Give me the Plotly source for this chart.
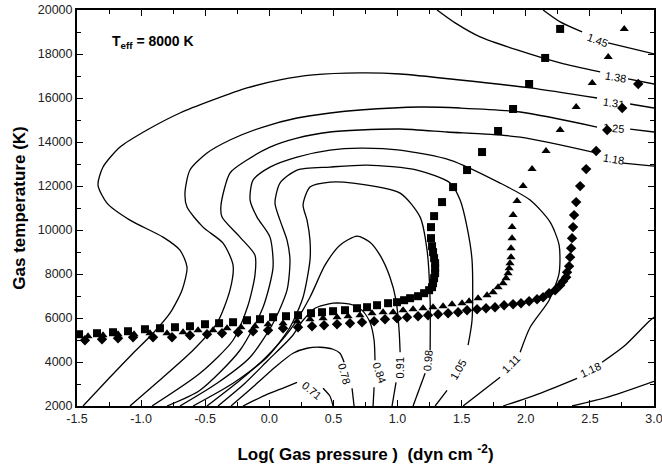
import plotly.graph_objects as go

# ---------------- contour lines (log Pgas, T); None = label gap
c145_x = [2.135, 2.268, 2.439, None, 2.642, 3.0]
c145_t = [20000, 19458, 19003, None, 18503, 18003]

c138_x = [1.308, 1.449, 1.644, 1.932, 2.268, 2.580, None, 2.798, 3.0]
c138_t = [20000, 19413, 18776, 18184, 17594, 17184, None, 16865, 16637]

c131_x = [-1.453, -1.243, -1.063, -0.907, -0.775, -0.681, -0.642, -0.697, -0.829, -1.087, -1.266, -1.336,
          -1.297, -1.164, -0.954, -0.697, -0.439, -0.174, 0.083, 0.341, 0.707, 1.020, 1.488, 2.034, 2.556,
          None, 2.814, 3.0]
c131_t = [2000, 3306, 4398, 5308, 6218, 7264, 8311, 9085, 9676, 10449, 11223, 12042,
          12861, 13771, 14544, 15318, 15910, 16456, 16819, 17047, 17138, 17092, 16819, 16456, 16000,
          None, 15727, 15545]

c125_x = [-1.087, -0.829, -0.595, -0.408, -0.307, -0.283, -0.361, -0.517, -0.642, -0.658, -0.619, -0.486,
          -0.307, -0.049, 0.216, 0.474, 0.707, 1.176, 1.488, 1.956, 2.556, None, 2.814, 3.0]
c125_t = [2000, 3306, 4534, 5763, 7264, 8402, 9403, 10131, 11041, 11678, 12725, 13498,
          14090, 14681, 15091, 15318, 15454, 15591, 15545, 15363, 14681, None, 14590, 14454]

c118_x = [-0.915, -0.541, -0.283, -0.166, -0.112, -0.112, -0.229, -0.369, -0.377, -0.307, -0.174, 0.005,
          0.216, 0.473, 0.707, 1.020, 1.386, 1.956, 2.556, None, 2.759, 3.0]
c118_t = [2000, 3488, 4989, 6582, 7947, 8857, 9676, 10586, 11132, 12588, 13180, 13771,
          14180, 14454, 14545, 14590, 14454, 14226, 13498, None, 13043, 12906]

c111_x = [-0.798, -0.541, -0.229, -0.049, 0.029, 0.005, -0.096, -0.150, -0.127, 0.005, 0.216, 0.473,
          0.707, 1.020, 1.410, 1.800, 2.034, 2.190, 2.260, 2.260, 2.182, 2.034, 1.956, None, 1.800, 1.511]
c111_t = [2000, 2715, 4534, 6491, 8311, 9676, 10586, 11360, 12270, 12861, 13316, 13634,
          13725, 13634, 13180, 12133, 11360, 10358, 9312, 8038, 6810, 5581, 4443, None, 3306, 2000]

c105_x = [-0.697, -0.408, -0.150, 0.029, 0.138, 0.161, 0.138, 0.083, 0.044, 0.083, 0.216, 0.473,
          0.762, 1.152, 1.410, 1.488, 1.542, 1.581, 1.581, 1.550, None, 1.386, 1.293]
c105_t = [2000, 3033, 4216, 5763, 7264, 8629, 9539, 10449, 11223, 12133, 12725, 12861,
          12952, 12725, 12133, 11360, 10131, 8629, 5899, 4762, None, 2715, 2000]

c098_x = [-0.595, -0.283, -0.018, 0.161, 0.263, 0.317, 0.317, 0.294, 0.263, 0.317, 0.473, 0.653,
          1.020, 1.176, 1.230, 1.254, 1.254, None, 1.215, 1.121]
c098_t = [2000, 3033, 4216, 5581, 6946, 8629, 9539, 10449, 11132, 11951, 12179, 12133,
          11678, 10586, 9085, 6810, 4534, None, 3488, 2000]

c091_x = [-0.486, -0.229, -0.034, 0.161, 0.317, 0.434, 0.551, 0.684, 0.785, 0.863, 0.941, 0.988,
          1.012, 1.020, None, 0.988, 0.957]
c091_t = [2000, 3169, 4170, 5444, 6946, 8402, 9312, 9721, 9448, 8857, 7856, 6810,
          5444, 4443, None, 3078, 2000]

c084_x = [-0.400, -0.190, -0.010, 0.177, 0.263, 0.356, 0.497, 0.629, 0.723, 0.785, 0.817, 0.824,
          None, 0.817, 0.809]
c084_t = [2000, 3033, 4079, 5172, 5899, 6446, 6673, 6628, 6354, 5808, 4989, 4079,
          None, 2851, 2000]

c078_x = [-0.299, -0.112, 0.044, 0.185, 0.294, 0.395, 0.497, 0.551, 0.583, None, 0.645, 0.661]
c078_t = [2000, 2942, 3761, 4398, 4625, 4671, 4580, 4398, 3988, None, 2805, 2000]

c071_x = [-0.205, -0.034, 0.122, 0.216, None, 0.419, 0.473, 0.497]
c071_t = [2000, 2487, 2851, 3078, None, 2805, 2442, 2000]

c118b_x = [1.823, 2.112, 2.400, None, 2.595, 2.775, 2.954, 3.0]
c118b_t = [2000, 2578, 3260, None, 3988, 4762, 5808, 6036]

c125b_x = [2.361, 2.658, 3.0]
c125b_t = [2000, 2442, 3124]

# contour labels
lab_text = ["1.45", "1.38", "1.31", "1.25", "1.18", "1.18", "1.11", "1.05", "0.98", "0.91", "0.84", "0.78", "0.71"]
lab_x = [2.556, 2.697, 2.681, 2.681, 2.681, 2.502, 1.885, 1.472, 1.238, 1.020, 0.856, 0.583, 0.325]
lab_t = [18639, 16956, 15773, 14636, 13225, 3624, 3897, 3624, 4034, 3715, 3533, 3488, 2715]
lab_angle = [20, 10, 8, 5, 10, -25, -45, -60, -85, -90, 70, 75, 40]

# ---------------- model temperature structures
sq_x = [-1.484, -1.344, -1.219, -1.102, -0.970, -0.853, -0.736, -0.619, -0.502, -0.392,
        -0.283, -0.174, -0.073, 0.029, 0.130, 0.224, 0.325, 0.411, 0.497, 0.590,
        0.684, 0.762, 0.840, 0.926, 0.996, 1.051, 1.098, 1.160, 1.207, 1.246,
        1.269, 1.277, 1.285, 1.293, 1.293, 1.293, 1.285, 1.277, 1.269, 1.261,
        1.261, 1.285, 1.347, 1.433, 1.542, 1.659, 1.784, 1.901, 2.026, 2.151, 2.268]
sq_t = [5262, 5308, 5353, 5399, 5490, 5535, 5581, 5626, 5717, 5763,
        5808, 5899, 5945, 6036, 6081, 6127, 6218, 6263, 6309, 6354,
        6445, 6491, 6582, 6673, 6718, 6809, 6900, 6991, 7128, 7264,
        7401, 7583, 7810, 8038, 8265, 8493, 8720, 8993, 9266, 9630,
        10131, 10631, 11268, 11951, 12724, 13543, 14499, 15500, 16637, 17820, 19139]

tr_x = [-1.414, -1.297, -1.180, -1.055, -0.931, -0.798, -0.673, -0.556, -0.439, -0.330,
        -0.221, -0.112, -0.010, 0.107, 0.216, 0.317, 0.419, 0.528, 0.614, 0.707,
        0.801, 0.887, 0.965, 1.043, 1.121, 1.199, 1.277, 1.355, 1.425, 1.503,
        1.558, 1.628, 1.698, 1.745, 1.784, 1.823, 1.846, 1.862, 1.870, 1.877,
        1.885, 1.885, 1.893, 1.893, 1.901, 1.932, 1.979, 2.049, 2.158, 2.268,
        2.393, 2.518, 2.643, 2.768]
tr_t = [5172, 5217, 5262, 5262, 5308, 5308, 5353, 5444, 5444, 5535,
        5581, 5626, 5717, 5763, 5854, 5945, 5990, 6036, 6081, 6127,
        6218, 6263, 6263, 6354, 6400, 6445, 6491, 6536, 6627, 6673,
        6764, 6900, 7037, 7173, 7401, 7583, 7810, 8038, 8265, 8493,
        8766, 9175, 9630, 10131, 10677, 11314, 11996, 12769, 13589, 14544,
        15591, 16683, 17866, 19139]

dm_x = [-1.438, -1.305, -1.180, -1.063, -0.907, -0.759, -0.619, -0.486, -0.369, -0.244,
        -0.127, -0.010, 0.107, 0.224, 0.333, 0.427, 0.528, 0.629, 0.723, 0.817,
        0.902, 0.996, 1.074, 1.160, 1.238, 1.316, 1.394, 1.472, 1.542, 1.620,
        1.690, 1.760, 1.831, 1.901, 1.963, 2.026, 2.088, 2.135, 2.182, 2.229,
        2.268, 2.291, 2.315, 2.322, 2.338, 2.346, 2.354, 2.361, 2.369, 2.377,
        2.393, 2.424, 2.471, 2.549, 2.635, 2.752, 2.877]
dm_t = [4989, 5035, 5080, 5126, 5126, 5126, 5217, 5262, 5308, 5353,
        5399, 5444, 5535, 5581, 5626, 5672, 5717, 5763, 5808, 5854,
        5945, 5990, 6036, 6081, 6127, 6172, 6218, 6263, 6354, 6400,
        6445, 6491, 6582, 6627, 6673, 6764, 6855, 6946, 7128, 7264,
        7492, 7674, 7856, 8083, 8356, 8766, 9175, 9630, 10131, 10677,
        11268, 11996, 12769, 13589, 14544, 15545, 16637]

# axis ticks
x_tickvals = [-1.5, -1.0, -0.5, 0.0, 0.5, 1.0, 1.5, 2.0, 2.5, 3.0]
x_ticktext = ["-1.5", "-1.0", "-0.5", "0.0", "0.5", "1.0", "1.5", "2.0", "2.5", "3.0"]
y_tickvals = [2000, 4000, 6000, 8000, 10000, 12000, 14000, 16000, 18000, 20000]
y_ticktext = ["2000", "4000", "6000", "8000", "10000", "12000", "14000", "16000", "18000", "20000"]

contours = [(c145_x, c145_t), (c138_x, c138_t), (c131_x, c131_t), (c125_x, c125_t),
            (c118_x, c118_t), (c111_x, c111_t), (c105_x, c105_t), (c098_x, c098_t),
            (c091_x, c091_t), (c084_x, c084_t), (c078_x, c078_t), (c071_x, c071_t),
            (c118b_x, c118b_t), (c125b_x, c125b_t)]

FONT = "Liberation Sans, Arial, sans-serif"
fig = go.Figure()
for cx, ct in contours:
    fig.add_trace(go.Scatter(x=cx, y=ct, mode="lines", connectgaps=False,
                             line=dict(color="black", width=1.3, shape="spline", smoothing=0.7),
                             hoverinfo="skip", showlegend=False))

for mx, mt, sym, sz in [(sq_x, sq_t, "square", 8), (tr_x, tr_t, "triangle-up", 8), (dm_x, dm_t, "diamond", 8)]:
    fig.add_trace(go.Scatter(x=mx, y=mt, mode="markers", showlegend=False,
                             marker=dict(symbol=sym, size=sz, color="black", line=dict(width=0))))

for txt, lx, lt, ang in zip(lab_text, lab_x, lab_t, lab_angle):
    fig.add_annotation(x=lx, y=lt, text=txt, showarrow=False, textangle=ang,
                       font=dict(family=FONT, size=11, color="black"))

fig.add_annotation(x=-1.243, y=18548, xanchor="left", text="<b>T<sub>eff</sub> = 8000 K</b>",
                   showarrow=False, font=dict(family=FONT, size=14, color="black"))

axis_common = dict(showline=True, linewidth=2, linecolor="black", mirror="ticks",
                   ticks="inside", ticklen=6, tickwidth=1.2, tickcolor="black",
                   showgrid=False, zeroline=False, automargin=False,
                   ticklabeloverflow="allow",
                   tickfont=dict(family=FONT, size=12.5, color="#222"))

fig.update_xaxes(range=[-1.5, 3.0], tickmode="array", tickvals=x_tickvals, ticktext=x_ticktext,
                 minor=dict(dtick=0.25, tick0=-1.5, ticks="inside", ticklen=4, tickcolor="black"),
                 title=dict(text="<b>Log( Gas pressure )  (dyn cm <sup>-2</sup>)</b>",
                            font=dict(family=FONT, size=17, color="black"), standoff=23),
                 **axis_common)
fig.update_yaxes(range=[2000, 20000], tickmode="array", tickvals=y_tickvals, ticktext=y_ticktext,
                 minor=dict(dtick=1000, tick0=2000, ticks="inside", ticklen=4, tickcolor="black"),
                 title=dict(text="<b>Gas temperature (K)</b>",
                            font=dict(family=FONT, size=17, color="black"), standoff=8),
                 **axis_common)

fig.update_layout(width=662, height=475, margin=dict(l=77, r=8, t=10, b=69),
                  plot_bgcolor="white", paper_bgcolor="white")

fig.write_html("out.html", config={"displayModeBar": False},
               post_script="document.body.style.margin='0px';")
